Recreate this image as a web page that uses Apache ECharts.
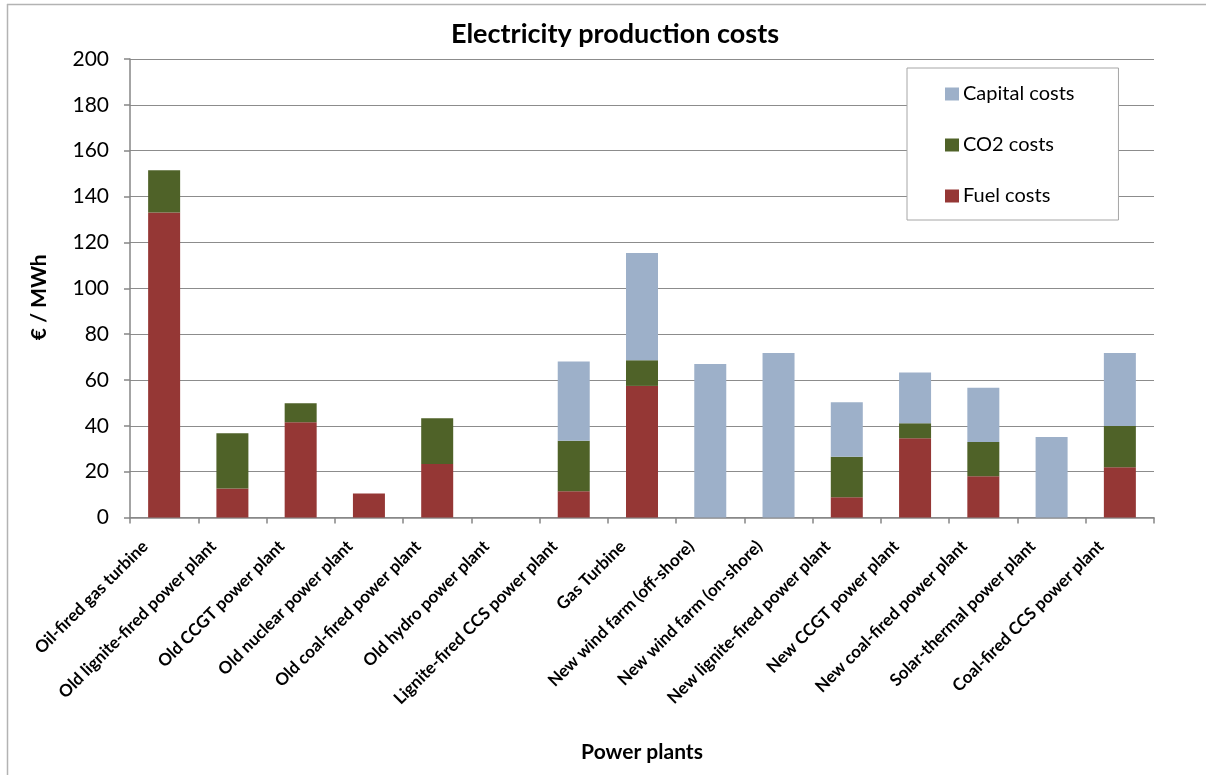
<!DOCTYPE html>
<html>
<head>
<meta charset="utf-8">
<script src="https://cdn.jsdelivr.net/npm/echarts@6/dist/echarts.min.js"></script>
<style>
  html, body { margin: 0; padding: 0; background: #fff; }
  #chart { width: 1206px; height: 775px; }
</style>
</head>
<body>
<div id="chart"></div>
<script>
// Power plant types along the x axis
const categories = [
  'Oil-fired gas turbine',
  'Old lignite-fired power plant',
  'Old CCGT power plant',
  'Old nuclear power plant',
  'Old coal-fired power plant',
  'Old hydro power plant',
  'Lignite-fired CCS power plant',
  'Gas Turbine',
  'New wind farm (off-shore)',
  'New wind farm (on-shore)',
  'New lignite-fired power plant',
  'New CCGT power plant',
  'New coal-fired power plant',
  'Solar-thermal power plant',
  'Coal-fired CCS power plant'
];

// Cost components in € / MWh (stacked bottom to top: fuel, CO2, capital)
const fuelCosts    = [133, 12.6, 41.5, 10.5, 23.3, 0, 11.5, 57.4, 0, 0, 8.8, 34.6, 18.0, 0, 21.9];
const co2Costs     = [18.5, 24.1, 8.3, 0, 20.0, 0, 22.0, 11.2, 0, 0, 17.7, 6.5, 14.9, 0, 18.0];
const capitalCosts = [0, 0, 0, 0, 0, 0, 34.5, 46.8, 67.0, 71.8, 23.8, 22.1, 23.7, 35.1, 31.9];

const seriesNames = ['Fuel costs', 'CO2 costs', 'Capital costs'];
const legendOrder = ['Capital costs', 'CO2 costs', 'Fuel costs'];

const FONT = 'Lato, "Open Sans", sans-serif';
const AXIS_GREY = '#868686';

const chart = echarts.init(document.getElementById('chart'), null, { renderer: 'canvas' });

function barSeries(name, data, color) {
  return {
    name: name,
    type: 'bar',
    stack: 'cost',
    barWidth: 32,
    data: data,
    itemStyle: { color: color },
    emphasis: { disabled: true }
  };
}

chart.setOption({
  animation: false,
  backgroundColor: '#ffffff',
  textStyle: { fontFamily: FONT },
  title: {
    text: 'Electricity production costs',
    left: 610,
    top: 16,
    textAlign: 'center',
    textStyle: { fontFamily: FONT, fontSize: 27, fontWeight: 'bold', color: '#000' }
  },
  legend: {
    data: legendOrder,
    orient: 'vertical',
    left: 907,
    top: 68,
    padding: [16, 44, 14, 38],
    itemGap: 31,
    itemWidth: 14,
    itemHeight: 13,
    icon: 'rect',
    backgroundColor: '#ffffff',
    borderColor: '#a6a6a6',
    borderWidth: 1,
    textStyle: { fontFamily: FONT, fontSize: 20, color: '#000', padding: [0, 0, 0, -1] }
  },
  grid: { left: 130, right: 52, top: 59, bottom: 257.5, containLabel: false },
  xAxis: {
    type: 'category',
    data: categories,
    name: 'Power plants',
    nameLocation: 'middle',
    nameGap: 224,
    nameTextStyle: { fontFamily: FONT, fontSize: 21, fontWeight: 'bold', color: '#000' },
    axisLine: { lineStyle: { color: AXIS_GREY, width: 1.5 } },
    axisTick: { show: true, length: 6, lineStyle: { color: AXIS_GREY, width: 1.5 } },
    axisLabel: {
      interval: 0,
      rotate: 45,
      margin: 7,
      padding: [0, 27, 0, 0],
      fontFamily: FONT,
      fontSize: 17,
      fontWeight: 'bold',
      color: '#000'
    }
  },
  yAxis: {
    type: 'value',
    min: 0,
    max: 200,
    interval: 20,
    name: '€ / MWh',
    nameLocation: 'middle',
    nameGap: 80,
    nameRotate: 90,
    nameTextStyle: { fontFamily: FONT, fontSize: 21, fontWeight: 'bold', color: '#000', padding: [0, 18, 0, 0] },
    axisLine: { show: true, lineStyle: { color: AXIS_GREY, width: 1.5 } },
    axisTick: { show: true, length: 6, lineStyle: { color: AXIS_GREY, width: 1.5 } },
    axisLabel: { margin: 21, fontFamily: FONT, fontSize: 21, color: '#000' },
    splitLine: { lineStyle: { color: '#8c8c8c', width: 1 } }
  },
  graphic: [
    // outer chart frame (top and left edges)
    { type: 'line', silent: true, shape: { x1: 7, y1: 4.5, x2: 1206, y2: 4.5 },
      style: { stroke: '#b3b3b3', lineWidth: 1.5 } },
    { type: 'line', silent: true, shape: { x1: 7.5, y1: 4, x2: 7.5, y2: 775 },
      style: { stroke: '#b3b3b3', lineWidth: 1.5 } }
  ],
  series: [
    barSeries(seriesNames[0], fuelCosts, '#953735'),
    barSeries(seriesNames[1], co2Costs, '#4f6228'),
    barSeries(seriesNames[2], capitalCosts, '#9db0c9')
  ]
});
</script>
</body>
</html>
